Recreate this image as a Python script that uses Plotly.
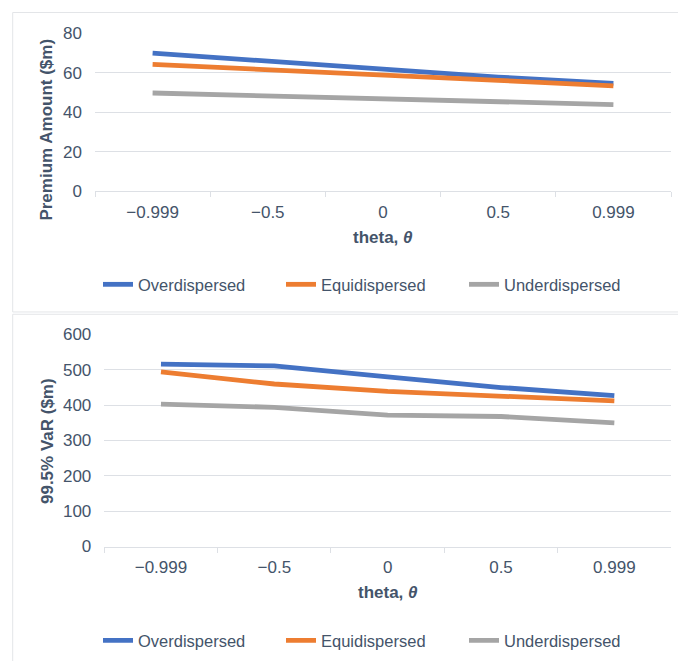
import plotly.graph_objects as go

# ---------------- data ----------------
theta_labels = ["\u22120.999", "\u22120.5", "0", "0.5", "0.999"]
series_names = ["Overdispersed", "Equidispersed", "Underdispersed"]

premium_over = [70.0, 66.1, 62.0, 57.9, 54.7]
premium_equi = [64.3, 61.8, 59.0, 56.2, 53.4]
premium_under = [49.8, 48.3, 46.6, 45.3, 43.9]

var_over = [516, 511, 480, 450, 427]
var_equi = [494, 460, 439, 424, 412]
var_under = [403, 394, 372, 368, 350]

premium_ticks = [0, 20, 40, 60, 80]
var_ticks = [0, 100, 200, 300, 400, 500, 600]

# ---------------- styling ----------------
W, H = 678, 661
colors = ["#4472C4", "#ED7D31", "#A5A5A5"]
TXT = "#44546A"
GRID = "#DDE0E5"
FONT = "Liberation Sans, Arial, sans-serif"


def px(x):
    return x / W


def py(y):
    # vertical placement, compensated for the page offset seen in the capture
    ys = (y - 8.2) / 0.973
    return 1 - ys / H


fig = go.Figure()

top_series = [premium_over, premium_equi, premium_under]
bot_series = [var_over, var_equi, var_under]

for name, vals, c in zip(series_names, top_series, colors):
    fig.add_trace(go.Scatter(x=theta_labels, y=vals, name=name, mode="lines",
                             line=dict(color=c, width=4.8),
                             xaxis="x", yaxis="y", legend="legend"))
for name, vals, c in zip(series_names, bot_series, colors):
    fig.add_trace(go.Scatter(x=theta_labels, y=vals, name=name, mode="lines",
                             line=dict(color=c, width=4.8),
                             xaxis="x2", yaxis="y2", legend="legend2"))

xcommon = dict(type="category", range=[-0.5, 4.5], showgrid=False, zeroline=False,
               showline=True, linecolor=GRID, linewidth=1,
               ticks="outside", tickson="boundaries", ticklen=5, tickcolor=GRID,
               tickfont=dict(family=FONT, size=17, color=TXT),
               ticklabelstandoff=5, fixedrange=True)
ycommon = dict(showgrid=True, gridcolor=GRID, gridwidth=1, zeroline=False,
               showline=False, ticks="",
               tickfont=dict(family=FONT, size=17, color=TXT),
               ticklabelstandoff=12, fixedrange=True)

legend_common = dict(orientation="h", xanchor="left", yanchor="middle",
                     font=dict(family=FONT, size=16.5, color=TXT), bgcolor="rgba(0,0,0,0)",
                     entrywidth=138, entrywidthmode="pixels", traceorder="normal",
                     itemclick=False, itemdoubleclick=False)

fig.update_layout(
    width=W, height=H,
    margin=dict(l=0, r=0, t=0, b=0),
    paper_bgcolor="white", plot_bgcolor="white",
    showlegend=True,
    xaxis=dict(domain=[px(95), px(671)], anchor="y", **xcommon),
    yaxis=dict(domain=[py(190.7), py(32.7)], anchor="x", range=[0, 80],
               tickvals=premium_ticks, **ycommon),
    xaxis2=dict(domain=[px(104.3), px(671)], anchor="y2", **xcommon),
    yaxis2=dict(domain=[py(546.7), py(334.3)], anchor="x2", range=[0, 600],
                tickvals=var_ticks, **ycommon),
    legend=dict(x=px(98), y=py(284.3), **legend_common),
    legend2=dict(x=px(98), y=py(641), **legend_common),
)

# panel borders
fig.add_shape(type="rect", xref="paper", yref="paper",
              x0=px(12.7), x1=1.02, y0=py(311.7), y1=py(11.7),
              line=dict(color="#E3E5E8", width=1), layer="below")
fig.add_shape(type="rect", xref="paper", yref="paper",
              x0=px(12.7), x1=1.02, y0=-0.05, y1=py(314),
              line=dict(color="#E3E5E8", width=1), layer="below")

# axis titles
title_font = dict(family=FONT, size=17, color=TXT)
fig.add_annotation(text="<b>theta, <i>\u03b8</i></b>", xref="paper", yref="paper",
                   x=px(383), y=py(236.7), xanchor="center", yanchor="middle",
                   showarrow=False, font=title_font)
fig.add_annotation(text="<b>theta, <i>\u03b8</i></b>", xref="paper", yref="paper",
                   x=px(388), y=py(593), xanchor="center", yanchor="middle",
                   showarrow=False, font=title_font)
fig.add_annotation(text="<b>Premium Amount ($m)</b>", xref="paper", yref="paper",
                   x=px(47), y=py(129), xanchor="center", yanchor="middle",
                   textangle=-90, showarrow=False, font=title_font)
fig.add_annotation(text="<b>99.5% VaR ($m)</b>", xref="paper", yref="paper",
                   x=px(47), y=py(441), xanchor="center", yanchor="middle",
                   textangle=-90, showarrow=False, font=title_font)

fig.write_html("out.html", config={"displayModeBar": False},
               post_script="document.body.style.margin='0px';document.body.style.overflow='hidden';")
